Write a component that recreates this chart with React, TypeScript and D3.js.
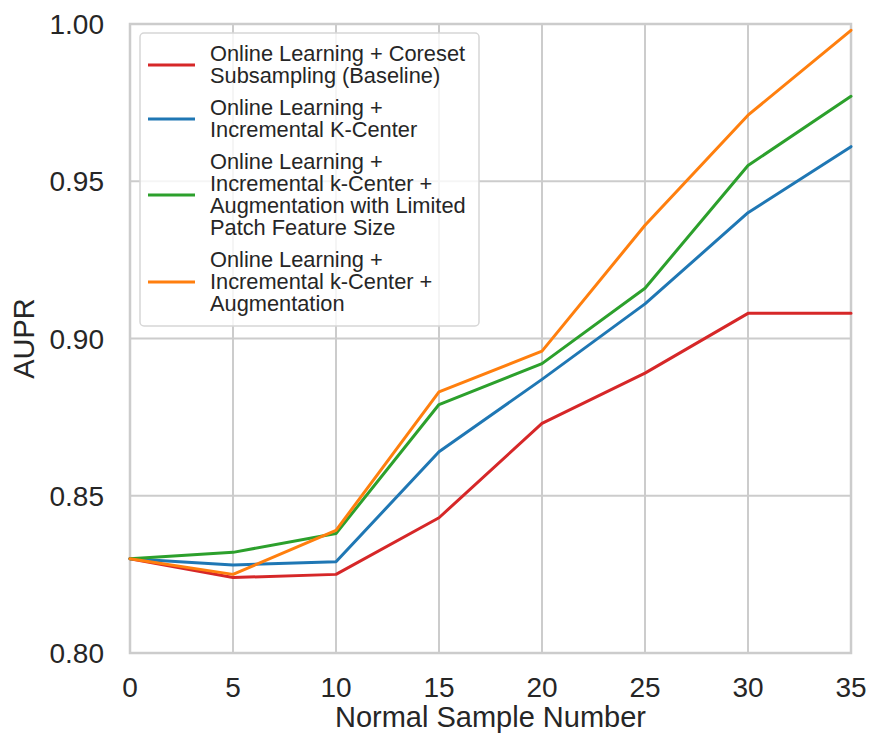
import React, { useEffect, useRef } from "react";
import * as d3 from "d3";

const sampleNumbers = [0, 5, 10, 15, 20, 25, 30, 35];

const baseline = [0.83, 0.824, 0.825, 0.843, 0.873, 0.889, 0.908, 0.908];
const kCenter = [0.83, 0.828, 0.829, 0.864, 0.887, 0.911, 0.94, 0.961];
const augLimited = [0.83, 0.832, 0.838, 0.879, 0.892, 0.916, 0.955, 0.977];
const augFull = [0.83, 0.825, 0.839, 0.883, 0.896, 0.936, 0.971, 0.998];

const xTicks = [0, 5, 10, 15, 20, 25, 30, 35];
const yTicks = [0.8, 0.85, 0.9, 0.95, 1.0];

const seriesNames = [
  ["Online Learning + Coreset", "Subsampling (Baseline)"],
  ["Online Learning +", "Incremental K-Center"],
  ["Online Learning +", "Incremental k-Center +", "Augmentation with Limited", "Patch Feature Size"],
  ["Online Learning +", "Incremental k-Center +", "Augmentation"],
];
const seriesValues = [baseline, kCenter, augLimited, augFull];
const colors = ["#d62728", "#1f77b4", "#2ca02c", "#ff7f0e"];

const WIDTH = 870;
const HEIGHT = 733;
const FONT = "'Liberation Sans', Arial, sans-serif";
const TEXT = "#262626";
const GRID = "#cccccc";

function App() {
  const ref = useRef<HTMLDivElement | null>(null);

  useEffect(() => {
    document.body.style.margin = "0";
    const margin = { left: 130, right: 19, top: 24, bottom: 80 };

    const x = d3
      .scaleLinear()
      .domain([0, 35])
      .range([margin.left, WIDTH - margin.right]);
    const y = d3
      .scaleLinear()
      .domain([0.8, 1.0])
      .range([HEIGHT - margin.bottom, margin.top]);

    const svg = d3
      .select(ref.current)
      .append("svg")
      .attr("width", WIDTH)
      .attr("height", HEIGHT)
      .style("display", "block")
      .style("background", "white");

    // grid
    xTicks.forEach((t) =>
      svg
        .append("line")
        .attr("x1", x(t))
        .attr("x2", x(t))
        .attr("y1", y(0.8))
        .attr("y2", y(1.0))
        .attr("stroke", GRID)
        .attr("stroke-width", 2)
    );
    yTicks.forEach((t) =>
      svg
        .append("line")
        .attr("x1", x(0))
        .attr("x2", x(35))
        .attr("y1", y(t))
        .attr("y2", y(t))
        .attr("stroke", GRID)
        .attr("stroke-width", 2)
    );

    // frame
    svg
      .append("rect")
      .attr("x", x(0))
      .attr("y", y(1.0))
      .attr("width", x(35) - x(0))
      .attr("height", y(0.8) - y(1.0))
      .attr("fill", "none")
      .attr("stroke", GRID)
      .attr("stroke-width", 2.5);

    // tick labels
    xTicks.forEach((t) =>
      svg
        .append("text")
        .attr("x", x(t))
        .attr("y", 697)
        .attr("text-anchor", "middle")
        .attr("font-family", FONT)
        .attr("font-size", 28)
        .attr("fill", TEXT)
        .text(t.toString())
    );
    yTicks.forEach((t) =>
      svg
        .append("text")
        .attr("x", 104)
        .attr("y", y(t) + 10)
        .attr("text-anchor", "end")
        .attr("font-family", FONT)
        .attr("font-size", 28)
        .attr("fill", TEXT)
        .text(d3.format(".2f")(t))
    );

    // axis labels
    svg
      .append("text")
      .attr("x", (x(0) + x(35)) / 2)
      .attr("y", 727)
      .attr("text-anchor", "middle")
      .attr("font-family", FONT)
      .attr("font-size", 29)
      .attr("fill", TEXT)
      .text("Normal Sample Number");
    svg
      .append("text")
      .attr("transform", `translate(34, ${(y(0.8) + y(1.0)) / 2}) rotate(-90)`)
      .attr("text-anchor", "middle")
      .attr("font-family", FONT)
      .attr("font-size", 29)
      .attr("fill", TEXT)
      .text("AUPR");

    // lines
    const line = d3
      .line<number>()
      .x((_, i) => x(sampleNumbers[i]))
      .y((d) => y(d));

    seriesValues.forEach((vals, i) =>
      svg
        .append("path")
        .datum(vals)
        .attr("d", line)
        .attr("fill", "none")
        .attr("stroke", colors[i])
        .attr("stroke-width", 3)
        .attr("stroke-linejoin", "round")
        .attr("stroke-linecap", "round")
    );

    // legend
    const lineGap = 22;
    const entryGap = 32;
    svg
      .append("rect")
      .attr("x", 140)
      .attr("y", 33)
      .attr("width", 339)
      .attr("height", 293)
      .attr("rx", 4)
      .attr("fill", "white")
      .attr("fill-opacity", 0.8)
      .attr("stroke", "#d6d6d6")
      .attr("stroke-width", 1.5);

    let base = 61;
    seriesNames.forEach((lines, i) => {
      const first = base;
      lines.forEach((l, j) =>
        svg
          .append("text")
          .attr("x", 210)
          .attr("y", first + j * lineGap)
          .attr("font-family", FONT)
          .attr("font-size", 21.8)
          .attr("fill", TEXT)
          .text(l)
      );
      const last = first + (lines.length - 1) * lineGap;
      const mid = (first + last) / 2 - 7;
      svg
        .append("line")
        .attr("x1", 148)
        .attr("x2", 195)
        .attr("y1", mid)
        .attr("y2", mid)
        .attr("stroke", colors[i])
        .attr("stroke-width", 3);
      base = last + entryGap;
    });

    return () => {
      svg.selectAll("*").remove();
      svg.remove();
    };
  }, []);

  return <div ref={ref} />;
}

export default App;
